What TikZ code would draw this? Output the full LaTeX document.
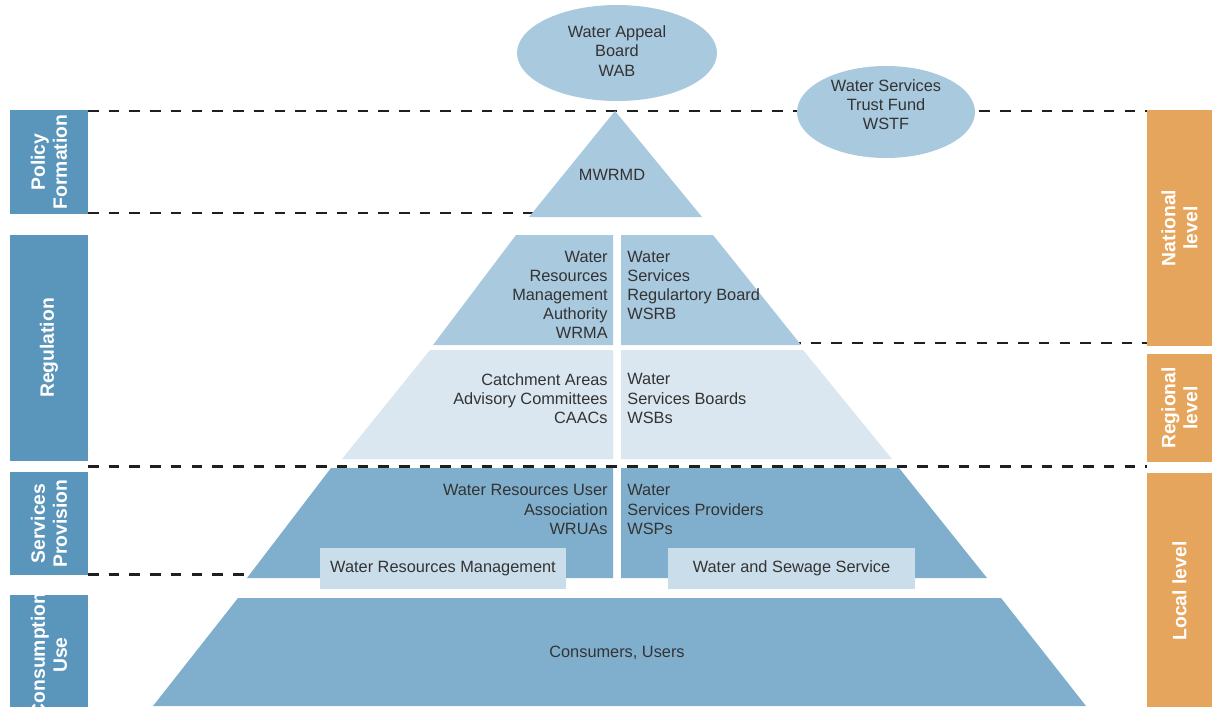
\documentclass[tikz,border=0pt]{standalone}
\usepackage{fontspec}
\setmainfont{Liberation Sans}
\definecolor{side_blue}{HTML}{5A96BB}
\definecolor{level_orange}{HTML}{E6A55D}
\definecolor{top_blue}{HTML}{A9C9DE}
\definecolor{pale_blue}{HTML}{DBE7F0}
\definecolor{mid_blue}{HTML}{80AFCD}
\definecolor{box_blue}{HTML}{CADDEA}
\definecolor{text_gray}{HTML}{333333}

\begin{document}
\begin{tikzpicture}[x=0.02cm, y=-0.02cm,
        side_label/.style={rotate=90, text=white, align=center, inner sep=0pt, font=\fontsize{11}{12.5}\selectfont\bfseries},
        org_text/.style={text=text_gray, inner sep=0pt, font=\fontsize{9.3}{10.9}\selectfont},
        task_box/.style={rectangle, fill=box_blue, text=text_gray, minimum width=4.93cm, minimum height=0.82cm, inner sep=0pt, font=\fontsize{9.3}{10.9}\selectfont},
        level_line/.style={draw=black!88, line width=1.7pt, dash pattern=on 6pt off 5.8pt}
        ]
            \useasboundingbox (0,0) rectangle (1212,706);
            \fill[white] (0,0) rectangle (1212,706);

            % Lines
            \draw[level_line] (88,111) -- (1147,111);
            \draw[level_line] (88,213) -- (560,213);
            \draw[level_line] (790,343) -- (1147,343);
            \draw[level_line] (88,466) -- (1147,466);
            \draw[level_line] (88,574) -- (270,574);

            % Areas
            \fill[side_blue] (10,110) rectangle (88,214);
            \fill[side_blue] (10,235) rectangle (88,461);
            \fill[side_blue] (10,472) rectangle (88,575);
            \fill[side_blue] (10,595) rectangle (88,720);
            \fill[level_orange] (1147,110) rectangle (1212,346);
            \fill[level_orange] (1147,354) rectangle (1212,462);
            \fill[level_orange] (1147,473) rectangle (1212,720);

            % pyramid
            \fill[top_blue] (615,111) -- (702,217) -- (529,217) -- cycle;
            \fill[top_blue] (516,235) -- (613,235) -- (613,345) -- (433,345) -- cycle;
            \fill[top_blue] (621,235) -- (713,235) -- (801,345) -- (621,345) -- cycle;
            \fill[pale_blue] (430,350) -- (613,350) -- (613,459) -- (342,459) -- cycle;
            \fill[pale_blue] (621,350) -- (803,350) -- (892,459) -- (621,459) -- cycle;
            \fill[mid_blue] (331,468) -- (613,468) -- (613,578) -- (247,578) -- cycle;
            \fill[mid_blue] (621,468) -- (899,468) -- (987,578) -- (621,578) -- cycle;
            \fill[mid_blue] (238,598) -- (1001,598) -- (1086,706) -- (153,706) -- cycle;
            \fill[top_blue] (617,53) ellipse [x radius=2cm, y radius=0.96cm];
            \fill[top_blue] (886,112) ellipse [x radius=1.78cm, y radius=0.92cm];

            % side labels
            \node[side_label] (policy)      at (49,162)    {Policy\\Formation};
            \node[side_label] (regulation)  at (49,348)    {Regulation};
            \node[side_label] (provision)   at (49,523.5)  {Services\\Provision};
            \node[side_label] (consumption) at (49,655)    {Consumption\\Use};
            \node[side_label] (national)    at (1179.5,228) {National\\level};
            \node[side_label] (regional)    at (1179.5,408) {Regional\\level};
            \node[side_label] (local)       at (1179.5,591) {Local level};

            % organisations
            \node[org_text, align=center] (wab)   at (617,51)  {Water Appeal\\Board\\WAB};
            \node[org_text, align=center] (wstf)  at (886,105) {Water Services\\Trust Fund\\WSTF};
            \node[org_text] (mwrmd) at (612,175) {MWRMD};
            \node[org_text, align=right, anchor=east] (wrma) at (608,295) {Water\\Resources\\Management\\Authority\\WRMA};
            \node[org_text, align=left, anchor=west]  (wsrb) at (627,285.5) {Water\\Services\\Regulartory Board\\WSRB};
            \node[org_text, align=right, anchor=east] (caacs) at (608,398.5) {Catchment Areas\\Advisory Committees\\CAACs};
            \node[org_text, align=left, anchor=west]  (wsbs)  at (627,398.5) {Water\\Services Boards\\WSBs};
            \node[org_text, align=right, anchor=east] (wruas) at (608,509.5) {Water Resources User\\Association\\WRUAs};
            \node[org_text, align=left, anchor=west]  (wsps)  at (627,509.5) {Water\\Services Providers\\WSPs};
            \node[task_box] (resources_mgmt) at (443,568.5)   {Water Resources Management};
            \node[task_box] (sewage_service) at (791.5,568.5) {Water and Sewage Service};
            \node[org_text] (consumers) at (617,653) {Consumers, Users};
        \end{tikzpicture}
\end{document}
